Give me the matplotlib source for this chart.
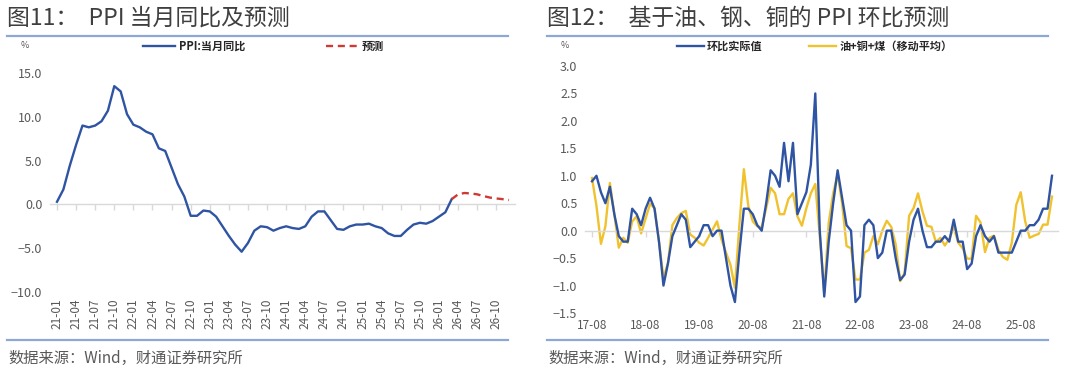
import matplotlib
matplotlib.use('Agg')
import matplotlib.pyplot as plt
from matplotlib.lines import Line2D
from matplotlib.ticker import FuncFormatter
import pandas as pd

plt.rcParams['font.family'] = ['Noto Sans CJK SC', 'DejaVu Sans']

# ---------------- data ----------------
yoy_months = pd.period_range('2021-01', '2026-12', freq='M').strftime('%y-%m').tolist()
yoy_actual = [0.3, 1.7, 4.4, 6.8, 9.0, 8.8, 9.0, 9.5, 10.7, 13.5, 12.9, 10.3,
              9.1, 8.8, 8.3, 8.0, 6.4, 6.1, 4.2, 2.3, 0.9, -1.3, -1.3, -0.7,
              -0.8, -1.4, -2.5, -3.6, -4.6, -5.4, -4.4, -3.0, -2.5, -2.6, -3.0, -2.7,
              -2.5, -2.7, -2.8, -2.5, -1.4, -0.8, -0.8, -1.8, -2.8, -2.9, -2.5, -2.3,
              -2.3, -2.2, -2.5, -2.7, -3.3, -3.6, -3.6, -2.9, -2.3, -2.1, -2.2, -1.9,
              -1.4, -0.9, 0.6]
yoy_forecast = [0.6, 1.15, 1.3, 1.25, 1.15, 0.95, 0.78, 0.68, 0.6, 0.5]   # 26-03 .. 26-12

mom_months = pd.period_range('2017-08', '2026-03', freq='M').strftime('%y-%m').tolist()
mom_actual = [0.9, 1.0, 0.7, 0.5, 0.8,
              0.3, -0.1, -0.2, -0.2, 0.4, 0.3, 0.1, 0.4, 0.6, 0.4, -0.2, -1.0,
              -0.6, -0.1, 0.1, 0.3, 0.2, -0.3, -0.2, -0.1, 0.1, 0.1, -0.1, 0.0,
              0.0, -0.5, -1.0, -1.3, -0.4, 0.4, 0.4, 0.3, 0.1, 0.0, 0.5, 1.1,
              1.0, 0.8, 1.6, 0.9, 1.6, 0.3, 0.5, 0.7, 1.2, 2.5, 0.0, -1.2,
              -0.2, 0.5, 1.1, 0.6, 0.1, 0.0, -1.3, -1.2, 0.1, 0.2, 0.1, -0.5,
              -0.4, 0.0, 0.0, -0.5, -0.9, -0.8, -0.2, 0.2, 0.4, 0.0, -0.3, -0.3,
              -0.2, -0.2, -0.1, -0.2, 0.2, -0.2, -0.2, -0.7, -0.6, -0.1, 0.1, -0.1,
              -0.2, -0.1, -0.4, -0.4, -0.4, -0.4, -0.2, 0.0, 0.0, 0.1, 0.1, 0.2,
              0.4, 0.4, 1.0]
mom_model = [0.96, 0.45, -0.24, 0.08, 0.87,
             0.3, -0.31, -0.13, -0.22, 0.17, 0.26, -0.05, 0.22, 0.49, 0.41, -0.2, -0.86,
             -0.59, 0.1, 0.23, 0.32, 0.36, -0.07, -0.13, -0.22, -0.27, -0.13, 0.02, 0.17,
             -0.16, -0.4, -0.62, -1.04, 0.1, 1.12, 0.45, 0.17, 0.08, 0.06, 0.41, 0.78,
             0.68, 0.3, 0.3, 0.58, 0.68, 0.26, 0.09, 0.41, 0.68, 0.85, -0.1, -1.13,
             0.14, 0.68, 1.03, 0.5, -0.28, -0.32, -0.89, -0.89, -0.4, -0.35, -0.1, -0.25,
             0.0, 0.18, 0.07, -0.25, -0.92, -0.77, 0.27, 0.41, 0.68, 0.35, 0.09, 0.07,
             -0.21, -0.13, -0.27, -0.15, 0.06, -0.22, -0.32, -0.51, -0.51, 0.27, 0.15, -0.39,
             -0.13, -0.09, -0.35, -0.48, -0.53, -0.22, 0.47, 0.7, 0.17, -0.13, -0.09, -0.06,
             0.11, 0.11, 0.62]

title_left = '图11：  PPI 当月同比及预测'
title_right = '图12：  基于油、钢、铜的 PPI 环比预测'
source_text = '数据来源：Wind，财通证券研究所'
legend_left = ['PPI:当月同比', '预测']
legend_right = ['环比实际值', '油+铜+煤（移动平均）']

# ---------------- style ----------------
BLUE = '#2E54A3'
YELLOW = '#F0C22E'
RED = '#D03A33'
GREY = '#595959'
TITLE_C = '#3F3F3F'
RULE = '#8EA8D5'
ZERO = '#D9D9D9'

W, H = 1080, 372
fig = plt.figure(figsize=(W / 100, H / 100), dpi=100)


def fx(px):
    return px / W


def fy(py):
    return 1 - py / H


def fmt(v, pos):
    return f'{v:.1f}'.replace('-', '\u2212')


# ---------------- left panel ----------------
L0, L1, T0, B0 = 50, 515, 73, 292
ax1 = fig.add_axes([fx(L0), fy(B0), (L1 - L0) / W, (B0 - T0) / H])
n1 = len(yoy_months)
step1 = (509 - 57) / (n1 - 1)
ax1.set_xlim(-(57 - L0) / step1, (n1 - 1) + (L1 - 509) / step1)
ax1.set_ylim(-10, 15)
x_act = list(range(len(yoy_actual)))
x_fc = list(range(len(yoy_actual) - 1, len(yoy_actual) - 1 + len(yoy_forecast)))
ax1.plot(x_act, yoy_actual, color=BLUE, lw=1.7, solid_joinstyle='round', zorder=3)
ax1.plot(x_fc, yoy_forecast, color=RED, lw=1.7, ls=(0, (3, 2)), zorder=3)

# ---------------- right panel ----------------
R0, R1, T2, B2 = 585, 1058, 66, 313
ax2 = fig.add_axes([fx(R0), fy(B2), (R1 - R0) / W, (B2 - T2) / H])
n2 = len(mom_months)
step2 = (1052 - 592) / (n2 - 1)
ax2.set_xlim(-(592 - R0) / step2, (n2 - 1) + (R1 - 1052) / step2)
ax2.set_ylim(-1.5, 3.0)
xs2 = list(range(n2))
ax2.plot(xs2, mom_actual, color=BLUE, lw=1.7, solid_joinstyle='round', zorder=3)
ax2.plot(xs2, mom_model, color=YELLOW, lw=1.7, solid_joinstyle='round', zorder=2)

# ---------------- axes styling ----------------
for ax, ticks, labels, rot, yt, pad_x in [
    (ax1, list(range(0, n1, 3)), [yoy_months[i] for i in range(0, n1, 3)], 90,
     [-10, -5, 0, 5, 10, 15], 4.5),
    (ax2, list(range(0, n2, 12)), [mom_months[i] for i in range(0, n2, 12)], 0,
     [-1.5, -1.0, -0.5, 0.0, 0.5, 1.0, 1.5, 2.0, 2.5, 3.0], 4.5),
]:
    for s in ['top', 'right', 'left']:
        ax.spines[s].set_visible(False)
    ax.spines['bottom'].set_position(('data', 0))
    ax.spines['bottom'].set_color(ZERO)
    ax.spines['bottom'].set_linewidth(1.0)
    ax.set_xticks(ticks)
    ax.tick_params(axis='x', direction='out', length=4, width=1, color=ZERO,
                   labelbottom=False)
    ax.set_yticks(yt)
    ax.yaxis.set_major_formatter(FuncFormatter(fmt))
    ax.tick_params(axis='y', length=0, pad=5.5, labelsize=9, labelcolor=GREY)
    sec = ax.secondary_xaxis(0.0)
    sec.set_xticks(ticks, labels, rotation=rot)
    sec.tick_params(length=0, pad=pad_x, labelsize=8.5, labelcolor=GREY)
    sec.spines['bottom'].set_visible(False)
    ax.patch.set_alpha(0)

# ---------------- titles, rules, source ----------------
fig.text(fx(7), fy(18), title_left, fontsize=16.5, color=TITLE_C, va='center', ha='left')
fig.text(fx(547), fy(18), title_right, fontsize=16.5, color=TITLE_C, va='center', ha='left')
for xa, xb in [(7, 508), (547, 1048)]:
    for yy in (36, 340):
        fig.add_artist(Line2D([fx(xa), fx(xb)], [fy(yy), fy(yy)], color=RULE, lw=1.6,
                              transform=fig.transFigure))
fig.text(fx(8), fy(358), source_text, fontsize=11, color=GREY, va='center', ha='left')
fig.text(fx(548), fy(358), source_text, fontsize=11, color=GREY, va='center', ha='left')

# percent signs
fig.text(fx(25), fy(46), '%', fontsize=6.5, color=GREY, va='center', ha='center')
fig.text(fx(565), fy(46), '%', fontsize=6.5, color=GREY, va='center', ha='center')

# ---------------- legends ----------------
h_left = [Line2D([], [], color=BLUE, lw=1.7),
          Line2D([], [], color=RED, lw=1.7, ls=(0, (3, 2)))]
fig.legend(h_left, legend_left, loc='center left', bbox_to_anchor=(fx(143), fy(46)),
           ncol=2, frameon=False, prop={'size': 8, 'weight': 'bold'},
           handlelength=2.9, handletextpad=0.3, columnspacing=7.3,
           borderpad=0, borderaxespad=0, labelcolor='#262626')
h_right = [Line2D([], [], color=BLUE, lw=1.7),
           Line2D([], [], color=YELLOW, lw=1.7)]
fig.legend(h_right, legend_right, loc='center left', bbox_to_anchor=(fx(677), fy(46)),
           ncol=2, frameon=False, prop={'size': 8, 'weight': 'bold'},
           handlelength=2.4, handletextpad=0.3, columnspacing=4.2,
           borderpad=0, borderaxespad=0, labelcolor='#262626')

fig.savefig('out.png', dpi=100)
